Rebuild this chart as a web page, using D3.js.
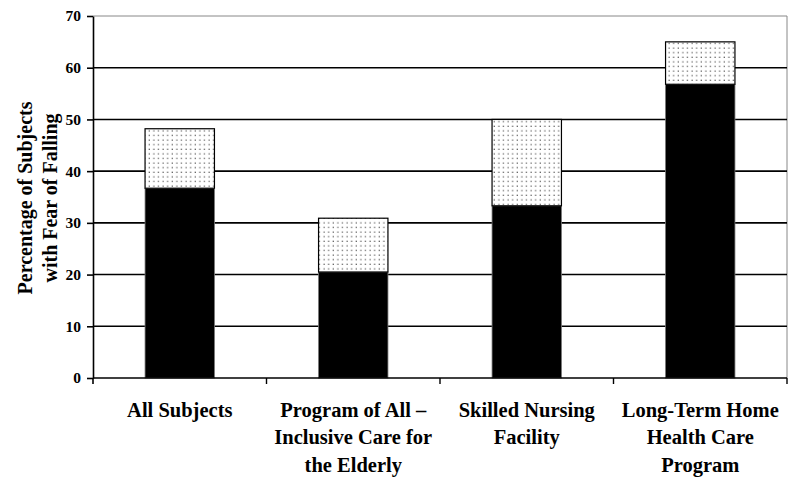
<!DOCTYPE html>
<html>
<head>
<meta charset="utf-8">
<script src="https://cdn.jsdelivr.net/npm/d3@7"></script>
<style>
  body { margin: 0; background: #fff; }
  text { font-family: "Liberation Serif", "Times New Roman", serif; font-weight: bold; fill: #000; }
</style>
</head>
<body>
<svg id="chart" width="800" height="481"></svg>
<script>
// categories (multi-line labels)
const categories = ['All Subjects', 'Program of All \u2013 Inclusive Care for the Elderly', 'Skilled Nursing Facility', 'Long-Term Home Health Care Program']
const labelLines = [
  ['All Subjects'],
  ['Program of All \u2013', 'Inclusive Care for', 'the Elderly'],
  ['Skilled Nursing', 'Facility'],
  ['Long-Term Home', 'Health Care', 'Program']
]
// lower (solid black) segment and upper (dotted) segment, in percent
const solidValues = [36.7, 20.5, 33.3, 56.8]
const dottedValues = [11.5, 10.4, 16.7, 8.2]
const yTicks = [0, 10, 20, 30, 40, 50, 60, 70]

const width = 800
const height = 481
const margin = { top: 16, right: 13, bottom: 103, left: 93 }

const svg = d3.select('#chart')

const x = d3.scaleBand()
  .domain(categories)
  .range([margin.left, width - margin.right])
  .paddingInner(0.6)
  .paddingOuter(0.3)

const xGroup = d3.scaleBand()
  .domain(categories)
  .range([margin.left, width - margin.right])
  .padding(0)

const y = d3.scaleLinear()
  .domain([0, 70])
  .range([height - margin.bottom, margin.top])

// dot pattern for upper segment
const defs = svg.append('defs')
const pat = defs.append('pattern')
  .attr('id', 'dots')
  .attr('patternUnits', 'userSpaceOnUse')
  .attr('width', 4.6)
  .attr('height', 4.6)
pat.append('rect').attr('width', 4.6).attr('height', 4.6).attr('fill', '#fff')
pat.append('rect').attr('x', 1.5).attr('y', 1.5).attr('width', 1.2).attr('height', 1.2).attr('fill', '#555')

// plot frame: right border and top line in gray
svg.append('line')
  .attr('x1', margin.left).attr('x2', width - margin.right)
  .attr('y1', y(70)).attr('y2', y(70))
  .attr('stroke', '#888').attr('stroke-width', 1)
svg.append('line')
  .attr('x1', width - margin.right).attr('x2', width - margin.right)
  .attr('y1', y(70)).attr('y2', y(0))
  .attr('stroke', '#888').attr('stroke-width', 1)

// gridlines
svg.append('g')
  .selectAll('line')
  .data(yTicks.filter(d => d > 0 && d < 70))
  .enter()
    .append('line')
    .attr('x1', margin.left).attr('x2', width - margin.right)
    .attr('y1', d => y(d)).attr('y2', d => y(d))
    .attr('stroke', '#000').attr('stroke-width', 1.6)

// bars
const data = categories.map((c, i) => ({ cat: c, solid: solidValues[i], dotted: dottedValues[i] }))

svg.append('g')
  .selectAll('rect')
  .data(data)
  .enter()
    .append('rect')
    .attr('x', d => x(d.cat))
    .attr('width', x.bandwidth())
    .attr('y', d => y(d.solid))
    .attr('height', d => y(0) - y(d.solid))
    .attr('fill', '#000')
    .attr('stroke', '#777')
    .attr('stroke-width', 0.8)

svg.append('g')
  .selectAll('rect')
  .data(data)
  .enter()
    .append('rect')
    .attr('x', d => x(d.cat))
    .attr('width', x.bandwidth())
    .attr('y', d => y(d.solid + d.dotted))
    .attr('height', d => y(d.solid) - y(d.solid + d.dotted))
    .attr('fill', 'url(#dots)')
    .attr('stroke', '#000')
    .attr('stroke-width', 1.2)

// y axis
const yAxis = svg.append('g')
  .attr('transform', `translate(${margin.left}, 0)`)
  .call(d3.axisLeft(y).tickValues(yTicks).tickSize(6).tickSizeOuter(0).tickPadding(6))
yAxis.selectAll('path, line').attr('stroke', '#000').attr('stroke-width', 1.6)
yAxis.selectAll('text').style('font-size', '15.5px').style('font-family', '"Liberation Serif", serif').style('font-weight', 'bold')

// x axis: ticks at band boundaries
const xAxis = svg.append('g')
  .attr('transform', `translate(0, ${y(0)})`)
xAxis.append('line')
  .attr('x1', margin.left).attr('x2', width - margin.right)
  .attr('stroke', '#000').attr('stroke-width', 1.6)
xAxis.selectAll('.tick')
  .data(categories)
  .enter()
    .append('line')
    .attr('x1', d => xGroup(d) + xGroup.bandwidth())
    .attr('x2', d => xGroup(d) + xGroup.bandwidth())
    .attr('y1', 0).attr('y2', 6)
    .attr('stroke', '#000').attr('stroke-width', 1.4)
xAxis.append('line')
  .attr('x1', margin.left).attr('x2', margin.left)
  .attr('y1', 0).attr('y2', 6)
  .attr('stroke', '#000').attr('stroke-width', 1.6)

// category labels
const labels = svg.append('g')
  .selectAll('text')
  .data(categories)
  .enter()
    .append('text')
    .attr('text-anchor', 'middle')
    .style('font-size', '20.5px')
    .attr('transform', d => `translate(${x(d) + x.bandwidth() / 2}, ${y(0) + 39})`)
labels.selectAll('tspan')
  .data((d, i) => labelLines[i])
  .enter()
    .append('tspan')
    .attr('x', 0)
    .attr('y', (d, i) => i * 27.4)
    .text(d => d)

// y axis title
const yTitle = svg.append('text')
  .attr('text-anchor', 'middle')
  .style('font-size', '20px')
  .attr('transform', `translate(32, ${(y(0) + y(70)) / 2 + 1}) rotate(-90)`)
yTitle.append('tspan').attr('x', 0).attr('y', 0).text('Percentage of Subjects')
yTitle.append('tspan').attr('x', 0).attr('y', 25).text('with Fear of Falling')
</script>
</body>
</html>
